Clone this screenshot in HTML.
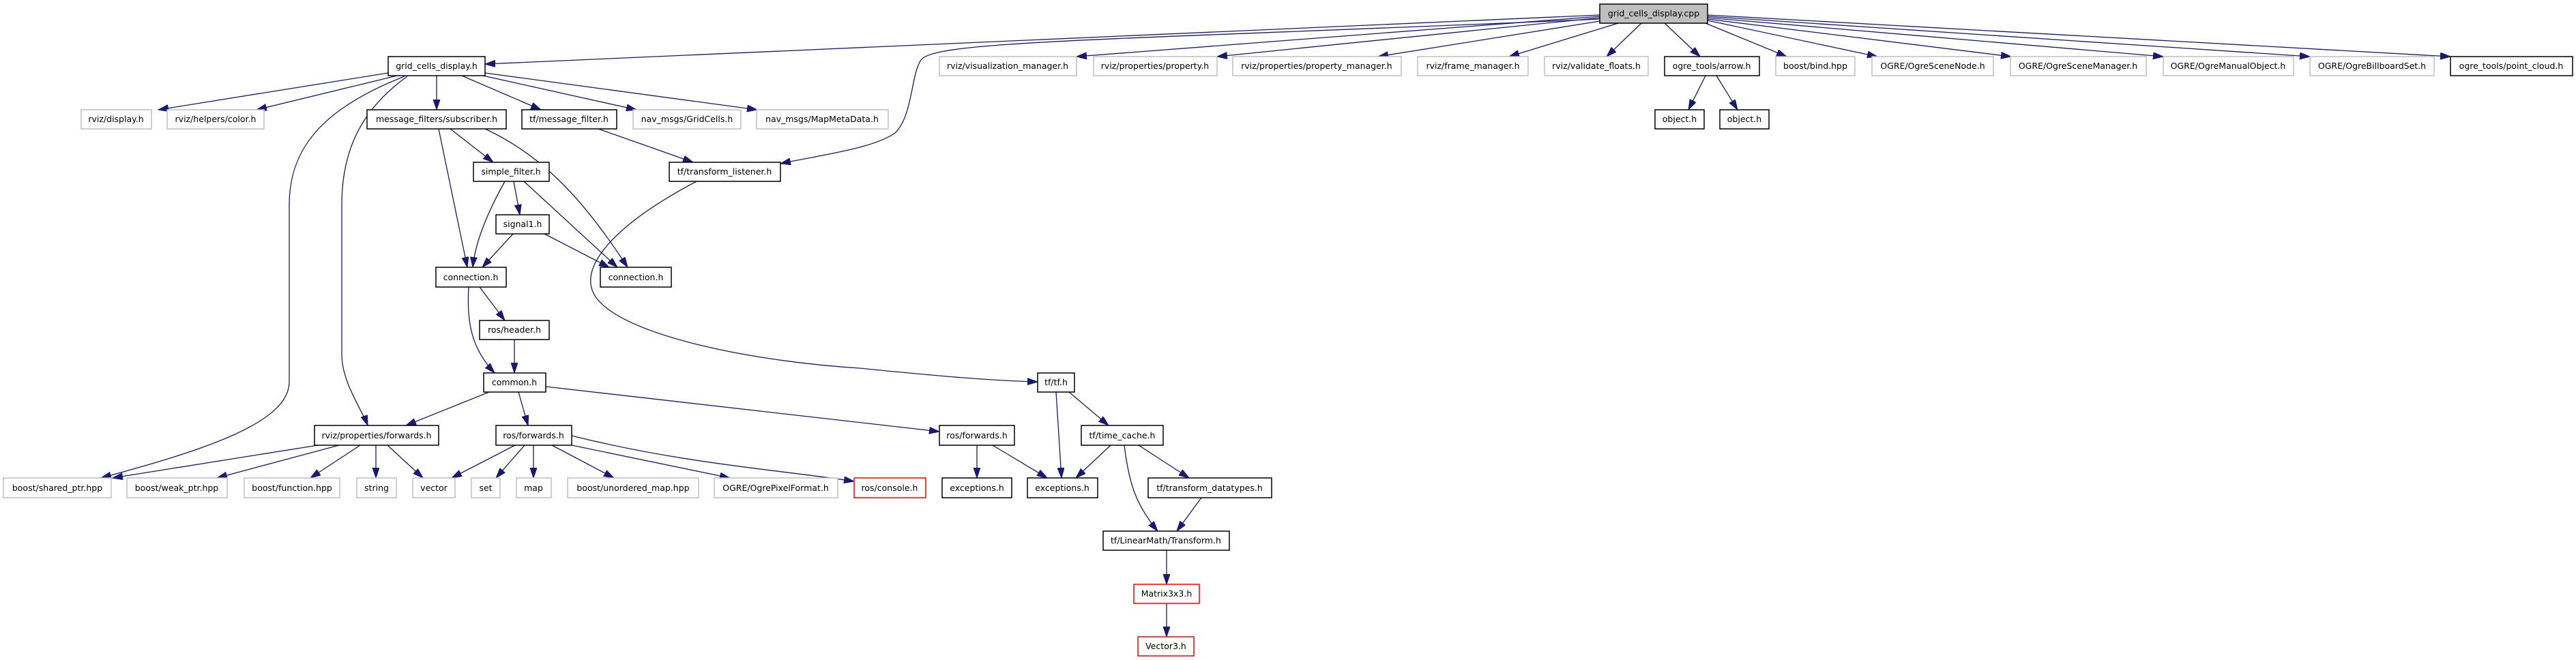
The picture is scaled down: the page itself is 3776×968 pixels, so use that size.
<!DOCTYPE html>
<html><head><meta charset="utf-8"><style>
html,body{margin:0;padding:0;background:#fff;}
svg{display:block;}
text{font-family:"DejaVu Sans","Liberation Sans",sans-serif;font-size:12.5px;text-anchor:middle;fill:#000;}
.g{fill:#fff;stroke:#bfbfbf;stroke-width:1.5;}
.b{fill:#fff;stroke:#000;stroke-width:1.5;}
.r{fill:#fff;stroke:#ff0000;stroke-width:1.5;}
.c{fill:#bfbfbf;stroke:#000;stroke-width:1.5;}
path,line{stroke:#191970;stroke-width:1.3;fill:none;}
</style></head><body>
<svg width="3776" height="968" viewBox="0 0 3776 968" xmlns="http://www.w3.org/2000/svg">
<defs><marker id="a" markerUnits="userSpaceOnUse" markerWidth="16" markerHeight="12" refX="15" refY="5" orient="auto"><path d="M0,0 L15,5 L0,10 Z" style="fill:#191970;stroke:#191970;stroke-width:1"/></marker></defs>
<g marker-end="url(#a)">
<!-- from cpp -->
<path d="M2345,22 L711,94"/>
<path d="M2345,24 L1578,83"/>
<path d="M2345,26 L1784,83"/>
<path d="M2345,31 L2020,83"/>
<path d="M2372,34 L2212,83"/>
<path d="M2406,34 L2355,83"/>
<path d="M2440,34 L2492,83"/>
<path d="M2345,28 C1600,60 1370,60 1350,88 C1335,110 1338,170 1312,195 C1280,218 1200,228 1144,240"/>
<path d="M2500,34 L2619,83"/>
<path d="M2503,30 L2752,83"/>
<path d="M2503,28 L2948,83"/>
<path d="M2503,26 L3171,83"/>
<path d="M2503,24 L3386,83"/>
<path d="M2503,22 L3592,83"/>
<path d="M2500,111 L2475,161"/>
<path d="M2516,111 L2547,161"/>
<!-- grid_cells_display.h -->
<path d="M569,107 L232,161"/>
<path d="M582,111 L376,161"/>
<path d="M640,111 L640,161"/>
<path d="M677,111 L793,161"/>
<path d="M708,111 L933,161"/>
<path d="M711,107 L1110,161"/>
<path d="M593,112 C470,160 424,220 424,300 L424,560 C424,620 300,660 148,701"/>
<path d="M597,112 C530,160 501,220 501,300 L501,520 C501,560 530,600 539,624"/>
<!-- subscriber -->
<path d="M643,189 L685,392"/>
<path d="M660,189 L723,238"/>
<path d="M711,189 C800,230 860,300 920,392"/>
<!-- simple_filter -->
<path d="M753,266 L762,315"/>
<path d="M740,266 C710,320 696,360 693,392"/>
<path d="M768,266 L905,392"/>
<!-- signal1 -->
<path d="M752,343 L707,392"/>
<path d="M798,343 L893,392"/>
<!-- message_filter -> transform_listener -->
<path d="M877,189 L1016,238"/>
<!-- transform_listener -> tf.h -->
<path d="M1021,266 C900,330 850,390 870,430 C900,490 1100,530 1260,540 C1380,552 1450,558 1521,560"/>
<!-- connection -->
<path d="M703,421 L740,470"/>
<path d="M687,421 C684,470 690,510 725,547"/>
<path d="M754,498 L754,547"/>
<!-- common -->
<path d="M717,575 L595,624"/>
<path d="M760,575 L774,624"/>
<path d="M800,567 L1377,633"/>
<!-- rviz forwards -->
<path d="M466,653 L165,701"/>
<path d="M497,653 L318,701"/>
<path d="M528,653 L455,701"/>
<path d="M551,653 L551,701"/>
<path d="M568,653 L620,701"/>
<!-- ros forwards 1 -->
<path d="M755,653 L662,701"/>
<path d="M769,653 L727,701"/>
<path d="M782,653 L782,701"/>
<path d="M809,653 L900,701"/>
<path d="M838,653 L1070,701"/>
<path d="M838,639 C1000,680 1150,690 1252,706"/>
<!-- tf.h -->
<path d="M1548,575 L1556,701"/>
<path d="M1567,575 L1625,624"/>
<!-- ros forwards 2 -->
<path d="M1432,653 L1432,701"/>
<path d="M1455,653 L1535,701"/>
<!-- time_cache -->
<path d="M1628,653 L1577,701"/>
<path d="M1669,653 L1743,701"/>
<path d="M1648,653 C1655,710 1665,740 1697,779"/>
<path d="M1761,730 L1725,779"/>
<path d="M1710,807 L1710,857"/>
<path d="M1710,885 L1710,934"/>
</g>
<!-- nodes -->
<rect class="c" x="2345" y="6" width="158" height="28"/><text x="2424" y="24">grid_cells_display.cpp</text>
<rect class="b" x="569" y="83" width="142" height="28"/><text x="640" y="101">grid_cells_display.h</text>
<rect class="g" x="1377" y="83" width="201" height="28"/><text x="1477" y="101">rviz/visualization_manager.h</text>
<rect class="g" x="1603" y="83" width="181" height="28"/><text x="1693" y="101">rviz/properties/property.h</text>
<rect class="g" x="1807" y="83" width="247" height="28"/><text x="1930" y="101">rviz/properties/property_manager.h</text>
<rect class="g" x="2078" y="83" width="162" height="28"/><text x="2159" y="101">rviz/frame_manager.h</text>
<rect class="g" x="2264" y="83" width="152" height="28"/><text x="2340" y="101">rviz/validate_floats.h</text>
<rect class="b" x="2440" y="83" width="139" height="28"/><text x="2509" y="101">ogre_tools/arrow.h</text>
<rect class="g" x="2603" y="83" width="116" height="28"/><text x="2661" y="101">boost/bind.hpp</text>
<rect class="g" x="2744" y="83" width="178" height="28"/><text x="2833" y="101">OGRE/OgreSceneNode.h</text>
<rect class="g" x="2947" y="83" width="199" height="28"/><text x="3046" y="101">OGRE/OgreSceneManager.h</text>
<rect class="g" x="3171" y="83" width="191" height="28"/><text x="3266" y="101">OGRE/OgreManualObject.h</text>
<rect class="g" x="3386" y="83" width="182" height="28"/><text x="3477" y="101">OGRE/OgreBillboardSet.h</text>
<rect class="b" x="3592" y="83" width="179" height="28"/><text x="3681" y="101">ogre_tools/point_cloud.h</text>
<rect class="b" x="2426" y="161" width="72" height="28"/><text x="2462" y="179">object.h</text>
<rect class="b" x="2521" y="161" width="72" height="28"/><text x="2557" y="179">object.h</text>
<rect class="g" x="119" y="161" width="103" height="28"/><text x="170" y="179">rviz/display.h</text>
<rect class="g" x="245" y="161" width="142" height="28"/><text x="316" y="179">rviz/helpers/color.h</text>
<rect class="b" x="538" y="161" width="204" height="28"/><text x="640" y="179">message_filters/subscriber.h</text>
<rect class="b" x="765" y="161" width="139" height="28"/><text x="834" y="179">tf/message_filter.h</text>
<rect class="g" x="928" y="161" width="158" height="28"/><text x="1007" y="179">nav_msgs/GridCells.h</text>
<rect class="g" x="1109" y="161" width="193" height="28"/><text x="1205" y="179">nav_msgs/MapMetaData.h</text>
<rect class="b" x="694" y="238" width="111" height="28"/><text x="749" y="256">simple_filter.h</text>
<rect class="b" x="981" y="238" width="163" height="28"/><text x="1062" y="256">tf/transform_listener.h</text>
<rect class="b" x="727" y="315" width="78" height="28"/><text x="766" y="333">signal1.h</text>
<rect class="b" x="639" y="392" width="103" height="29"/><text x="690" y="411">connection.h</text>
<rect class="b" x="880" y="392" width="104" height="29"/><text x="932" y="411">connection.h</text>
<rect class="b" x="703" y="470" width="102" height="28"/><text x="754" y="488">ros/header.h</text>
<rect class="b" x="709" y="547" width="91" height="28"/><text x="754" y="565">common.h</text>
<rect class="b" x="1521" y="547" width="54" height="28"/><text x="1548" y="565">tf/tf.h</text>
<rect class="b" x="461" y="624" width="182" height="29"/><text x="552" y="643">rviz/properties/forwards.h</text>
<rect class="b" x="727" y="624" width="111" height="29"/><text x="782" y="643">ros/forwards.h</text>
<rect class="b" x="1377" y="624" width="110" height="29"/><text x="1432" y="643">ros/forwards.h</text>
<rect class="b" x="1585" y="624" width="120" height="29"/><text x="1645" y="643">tf/time_cache.h</text>
<rect class="g" x="5" y="701" width="158" height="29"/><text x="84" y="720">boost/shared_ptr.hpp</text>
<rect class="g" x="186" y="701" width="147" height="29"/><text x="259" y="720">boost/weak_ptr.hpp</text>
<rect class="g" x="358" y="701" width="140" height="29"/><text x="428" y="720">boost/function.hpp</text>
<rect class="g" x="523" y="701" width="58" height="29"/><text x="552" y="720">string</text>
<rect class="g" x="605" y="701" width="62" height="29"/><text x="636" y="720">vector</text>
<rect class="g" x="691" y="701" width="42" height="29"/><text x="712" y="720">set</text>
<rect class="g" x="757" y="701" width="51" height="29"/><text x="782" y="720">map</text>
<rect class="g" x="832" y="701" width="192" height="29"/><text x="928" y="720">boost/unordered_map.hpp</text>
<rect class="g" x="1047" y="701" width="181" height="29"/><text x="1137" y="720">OGRE/OgrePixelFormat.h</text>
<rect class="r" x="1252" y="701" width="105" height="29"/><text x="1304" y="720">ros/console.h</text>
<rect class="b" x="1381" y="701" width="102" height="29"/><text x="1432" y="720">exceptions.h</text>
<rect class="b" x="1506" y="701" width="103" height="29"/><text x="1557" y="720">exceptions.h</text>
<rect class="b" x="1683" y="701" width="181" height="29"/><text x="1773" y="720">tf/transform_datatypes.h</text>
<rect class="b" x="1617" y="779" width="185" height="28"/><text x="1709" y="797">tf/LinearMath/Transform.h</text>
<rect class="r" x="1662" y="857" width="96" height="28"/><text x="1710" y="875">Matrix3x3.h</text>
<rect class="r" x="1668" y="934" width="82" height="28"/><text x="1709" y="952">Vector3.h</text>
</svg>
</body></html>
